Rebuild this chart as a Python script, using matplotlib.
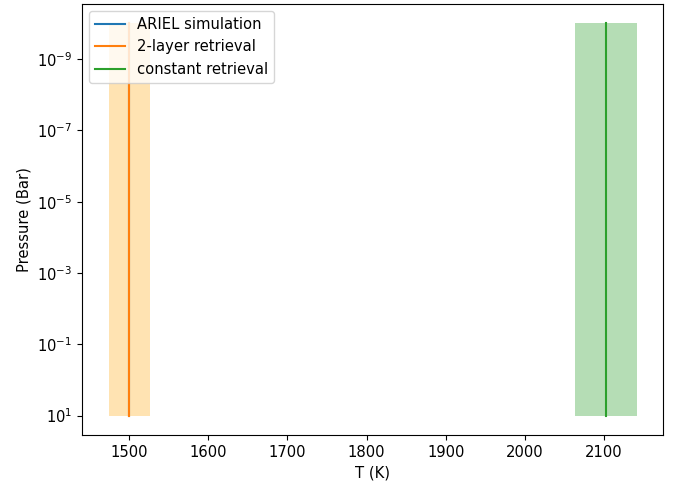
import matplotlib
matplotlib.use('Agg')
import matplotlib.pyplot as plt
import numpy as np


# Pressure grid (bar) and temperature profiles
pressure = [1e-10, 1e-9, 1e-8, 1e-7, 1e-6, 1e-5, 1e-4, 1e-3, 1e-2, 1e-1, 1e0, 1e1]
T_sim = [1500] * len(pressure)
T_2layer = [1500] * len(pressure)
T_2layer_err = [26] * len(pressure)
T_const = [2102] * len(pressure)
T_const_err = [39] * len(pressure)

plt.rcParams['font.size'] = 10.6

fig = plt.figure(figsize=(6.73, 4.84), dpi=100)
ax = fig.add_axes([0.122, 0.101, 0.863, 0.891])

ax.plot(T_sim, pressure, color='tab:blue', label='ARIEL simulation')

T2 = np.array(T_2layer)
e2 = np.array(T_2layer_err)
ax.plot(T2, pressure, color='tab:orange', label='2-layer retrieval')
ax.fill_betweenx(pressure, T2 - e2, T2 + e2, color='orange', alpha=0.3, linewidth=0)

Tc = np.array(T_const)
ec = np.array(T_const_err)
ax.plot(Tc, pressure, color='tab:green', label='constant retrieval')
ax.fill_betweenx(pressure, Tc - ec, Tc + ec, color='tab:green', alpha=0.35, linewidth=0)

ax.set_yscale('log')
ax.invert_yaxis()
ax.set_yticks([1e-9, 1e-7, 1e-5, 1e-3, 1e-1, 1e1])
ax.set_xlabel('T (K)')
ax.set_ylabel('Pressure (Bar)')
ax.legend(loc='upper left')

fig.savefig('out.png')
